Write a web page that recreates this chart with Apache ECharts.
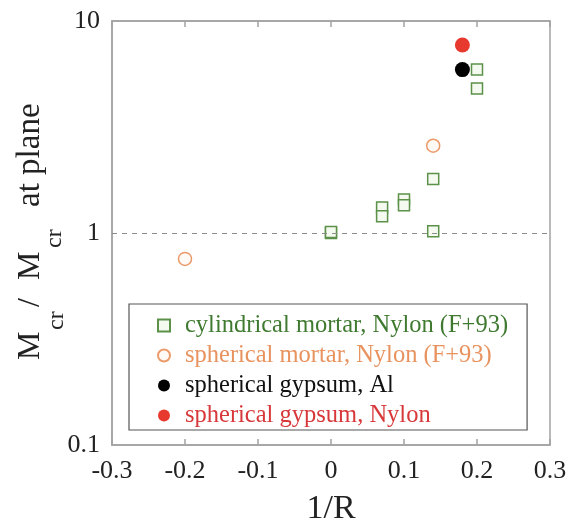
<!DOCTYPE html>
<html>
<head>
<meta charset="utf-8">
<script src="https://cdn.jsdelivr.net/npm/echarts@6/dist/echarts.min.js"></script>
<style>
  html, body { margin: 0; padding: 0; background: #fff; }
  #chart { width: 583px; height: 531px; }
</style>
</head>
<body>
<div id="chart"></div>
<script>
// values
const cylX = [0, 0, 0.07, 0.07, 0.1, 0.1, 0.14, 0.14, 0.2, 0.2];
const cylY = [1.0, 1.01, 1.32, 1.2, 1.44, 1.35, 1.8, 1.02, 5.9, 4.8];
const sphMortarX = [-0.2, 0.14];
const sphMortarY = [0.755, 2.58];
const gypAlX = [0.18];
const gypAlY = [5.9];
const gypNyX = [0.18];
const gypNyY = [7.7];
const xTicks = [-0.3, -0.2, -0.1, 0, 0.1, 0.2, 0.3];
const yTicks = [0.1, 1, 10];
const names = [
  'cylindrical mortar, Nylon (F+93)',
  'spherical mortar, Nylon (F+93)',
  'spherical gypsum, Al',
  'spherical gypsum, Nylon'
];

const serif = '"Liberation Serif", "DejaVu Serif", serif';
const gray = '#a3a3a3';

function pairs(xs, ys) {
  return xs.map((x, i) => [x, ys[i]]);
}

let chart = echarts.init(document.getElementById('chart'));

chart.setOption({
  animation: false,
  textStyle: { fontFamily: serif },
  grid: { left: 112, right: 33, top: 21, bottom: 84, show: true, borderColor: gray, borderWidth: 1.5 },
  legend: {
    orient: 'vertical',
    left: 129,
    top: 304,
    padding: [9, 19, 2, 28],
    itemGap: 5,
    itemWidth: 12,
    itemHeight: 12,
    borderColor: '#555',
    borderWidth: 1.2,
    textStyle: { fontFamily: serif, fontSize: 24.5, lineHeight: 24, padding: [0, 0, 0, 10] },
    data: [
      { name: names[0], textStyle: { color: '#3f7a30' } },
      { name: names[1], textStyle: { color: '#e8935f' } },
      { name: names[2], textStyle: { color: '#111' } },
      { name: names[3], textStyle: { color: '#d8383a' } }
    ]
  },
  xAxis: [{
    type: 'value',
    min: -0.3, max: 0.3, interval: 0.1,
    name: '1/R',
    nameLocation: 'middle',
    nameGap: 47,
    nameTextStyle: { fontFamily: serif, fontSize: 34, color: '#222' },
    axisLine: { onZero: false, lineStyle: { color: gray, width: 1.5 } },
    axisTick: { inside: true, length: 6, lineStyle: { color: gray, width: 1.5 } },
    axisLabel: {
      margin: 13, fontFamily: serif, fontSize: 26, color: '#222',
      formatter: v => {
        let t = xTicks.find(k => Math.abs(k - v) < 1e-9);
        return t === undefined ? '' : String(t);
      }
    },
    splitLine: { show: false }
  }, {
    type: 'value',
    position: 'top',
    min: -0.3, max: 0.3, interval: 0.1,
    axisLine: { onZero: false, lineStyle: { color: gray, width: 1.5 } },
    axisTick: { inside: true, length: 6, lineStyle: { color: gray, width: 1.5 } },
    axisLabel: { show: false },
    splitLine: { show: false }
  }],
  yAxis: {
    type: 'log',
    logBase: 10,
    min: yTicks[0], max: yTicks[yTicks.length - 1],
    axisLine: { onZero: false, lineStyle: { color: gray, width: 1.5 } },
    axisTick: { show: false },
    axisLabel: {
      margin: 12, fontFamily: serif, fontSize: 26, color: '#222',
      formatter: v => {
        let t = yTicks.find(k => Math.abs(k - v) / k < 1e-6);
        return t === undefined ? '' : String(t);
      }
    },
    splitLine: { show: false }
  },
  graphic: [{
    type: 'group',
    x: 47, y: 360,
    rotation: Math.PI / 2,
    children: [
      { type: 'text', x: 0, y: 0, style: { text: 'M', font: '32px ' + serif, fill: '#222', verticalAlign: 'bottom' } },
      { type: 'text', x: 30, y: 22, style: { text: 'cr', font: '24px ' + serif, fill: '#222', verticalAlign: 'bottom' } },
      { type: 'text', x: 53, y: 0, style: { text: '/', font: '32px ' + serif, fill: '#222', verticalAlign: 'bottom' } },
      { type: 'text', x: 80, y: 0, style: { text: 'M', font: '32px ' + serif, fill: '#222', verticalAlign: 'bottom' } },
      { type: 'text', x: 112, y: 20, style: { text: 'cr', font: '24px ' + serif, fill: '#222', verticalAlign: 'bottom' } },
      { type: 'text', x: 153, y: 0, style: { text: 'at plane', font: '33px ' + serif, fill: '#222', verticalAlign: 'bottom' } }
    ]
  }],
  series: [{
    name: names[0],
    type: 'scatter',
    symbol: 'rect',
    symbolSize: 11,
    itemStyle: { color: '#f4faf0', borderColor: '#5b9148', borderWidth: 1.5, opacity: 1 },
    data: pairs(cylX, cylY),
    markLine: {
      silent: true,
      symbol: 'none',
      label: { show: false },
      lineStyle: { color: '#8c8c8c', type: [5, 5], width: 1.2 },
      data: [{ yAxis: 1 }]
    },
    z: 3
  }, {
    name: names[1],
    type: 'scatter',
    symbol: 'circle',
    symbolSize: 13,
    itemStyle: { color: '#fffaf6', borderColor: '#eb9a6a', borderWidth: 1.5, opacity: 1 },
    data: pairs(sphMortarX, sphMortarY),
    z: 3
  }, {
    name: names[2],
    type: 'scatter',
    symbol: 'circle',
    symbolSize: 15,
    itemStyle: { color: '#000', opacity: 1 },
    data: pairs(gypAlX, gypAlY),
    z: 4
  }, {
    name: names[3],
    type: 'scatter',
    symbol: 'circle',
    symbolSize: 15,
    itemStyle: { color: '#e8392f', opacity: 1 },
    data: pairs(gypNyX, gypNyY),
    z: 4
  }]
});
</script>
</body>
</html>
